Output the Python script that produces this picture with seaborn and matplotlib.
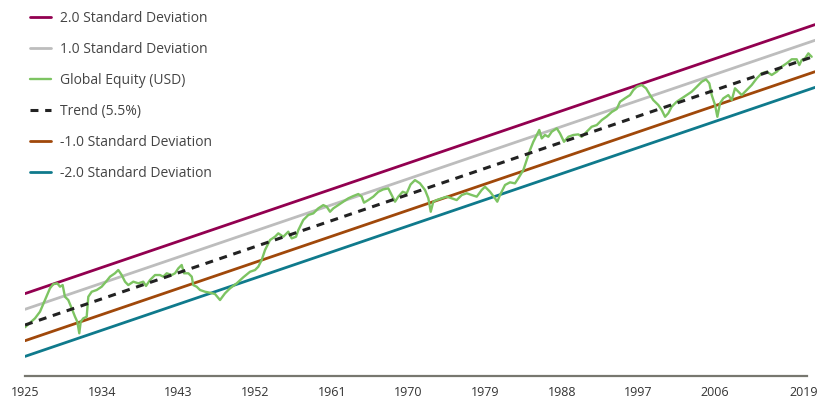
import numpy as np
import pandas as pd
import matplotlib
matplotlib.use("Agg")
import matplotlib.pyplot as plt
import seaborn as sns

# ------- DATA (year, log10 of growth of $1) ---------
equity_years = [
    1925.00, 1925.59, 1926.17, 1926.76, 1927.35, 1927.93, 1928.32, 1928.79, 1929.11, 1929.42,
    1929.69, 1930.08, 1930.48, 1930.87, 1931.14, 1931.37, 1931.54, 1931.84, 1932.24, 1932.43,
    1932.83, 1933.42, 1934.00, 1934.51, 1934.98, 1935.56, 1935.95, 1936.35, 1936.74, 1937.12,
    1937.71, 1938.30, 1938.88, 1939.20, 1939.67, 1940.26, 1940.84, 1941.23, 1941.63, 1942.22,
    1942.61, 1942.99, 1943.39, 1943.66, 1944.17, 1944.57, 1944.75, 1945.15, 1945.54, 1946.13,
    1946.71, 1947.30, 1947.89, 1948.47, 1949.06, 1949.85, 1950.62, 1951.41, 1952.00, 1952.38,
    1952.78, 1953.17, 1953.76, 1954.34, 1954.73, 1955.32, 1955.90, 1956.30, 1956.81, 1957.08,
    1957.66, 1958.25, 1958.84, 1959.42, 1960.01, 1960.41, 1960.80, 1961.19, 1961.77, 1962.36,
    1962.95, 1963.53, 1964.12, 1964.52, 1964.79, 1965.29, 1965.88, 1966.47, 1967.05, 1967.64,
    1968.04, 1968.43, 1968.81, 1969.33, 1969.80, 1970.25, 1970.77, 1971.36, 1971.95, 1972.34,
    1972.62, 1972.92, 1973.32, 1973.91, 1974.49, 1975.08, 1975.67, 1976.26, 1976.84, 1977.43,
    1978.02, 1978.60, 1978.99, 1979.58, 1980.16, 1980.43, 1980.75, 1981.34, 1981.92, 1982.51,
    1982.90, 1983.49, 1983.88, 1984.27, 1984.66, 1985.06, 1985.36, 1985.65, 1986.03, 1986.42,
    1986.82, 1987.41, 1987.79, 1988.26, 1988.77, 1989.35, 1989.94, 1990.34, 1990.93, 1991.51,
    1992.10, 1992.69, 1993.27, 1993.86, 1994.45, 1994.84, 1995.42, 1996.01, 1996.40, 1996.80,
    1997.38, 1997.89, 1998.36, 1998.74, 1999.33, 1999.73, 2000.12, 2000.50, 2000.90, 2001.49,
    2002.08, 2002.66, 2003.25, 2003.84, 2004.42, 2004.93, 2005.32, 2005.60, 2005.99, 2006.26,
    2006.57, 2006.96, 2007.55, 2007.95, 2008.33, 2008.72, 2009.12, 2009.71, 2010.29, 2010.88,
    2011.47, 2012.05, 2012.64, 2013.23, 2013.81, 2014.40, 2014.99, 2015.57, 2015.88, 2016.16,
    2016.55, 2016.94, 2017.33,
]
equity_log = [
    -0.018, 0.018, 0.053, 0.106, 0.199, 0.292, 0.326, 0.332, 0.305, 0.318,
    0.225, 0.199, 0.133, 0.066, 0.026, -0.066, 0.026, 0.053, 0.066, 0.225,
    0.265, 0.279, 0.305, 0.345, 0.385, 0.412, 0.438, 0.398, 0.345, 0.318,
    0.345, 0.332, 0.345, 0.311, 0.358, 0.398, 0.398, 0.385, 0.412, 0.398,
    0.412, 0.451, 0.478, 0.412, 0.412, 0.385, 0.318, 0.305, 0.279, 0.265,
    0.257, 0.247, 0.199, 0.252, 0.292, 0.332, 0.380, 0.424, 0.438, 0.464,
    0.518, 0.597, 0.677, 0.703, 0.730, 0.703, 0.743, 0.690, 0.703, 0.756,
    0.836, 0.876, 0.889, 0.929, 0.955, 0.942, 0.902, 0.929, 0.955, 0.982,
    1.009, 1.027, 1.043, 1.022, 0.974, 0.995, 1.022, 1.061, 1.080, 1.088,
    1.035, 0.982, 1.022, 1.061, 1.049, 1.119, 1.154, 1.128, 1.075, 1.009,
    0.902, 0.982, 0.995, 1.009, 1.022, 1.009, 0.995, 1.035, 1.049, 1.035,
    1.022, 1.075, 1.101, 1.061, 1.009, 0.982, 1.035, 1.115, 1.136, 1.128,
    1.168, 1.234, 1.314, 1.393, 1.459, 1.513, 1.553, 1.486, 1.513, 1.499,
    1.539, 1.566, 1.526, 1.459, 1.499, 1.513, 1.518, 1.499, 1.539, 1.579,
    1.592, 1.632, 1.660, 1.696, 1.720, 1.778, 1.805, 1.831, 1.871, 1.897,
    1.911, 1.885, 1.831, 1.791, 1.752, 1.712, 1.658, 1.686, 1.738, 1.778,
    1.805, 1.831, 1.858, 1.897, 1.937, 1.956, 1.924, 1.831, 1.752, 1.658,
    1.765, 1.805, 1.831, 1.791, 1.885, 1.858, 1.831, 1.871, 1.911, 1.964,
    2.004, 2.017, 1.991, 2.017, 2.057, 2.084, 2.116, 2.116, 2.070, 2.110,
    2.123, 2.163, 2.136,
]

# straight lines: start / end of the fitted trend and the SD bands
line_years = [1925.0, 2017.72]
trend_line = [0.000, 2.142]
sd_plus2 = [0.250, 2.392]
sd_plus1 = [0.125, 2.267]
sd_minus1 = [-0.125, 2.017]
sd_minus2 = [-0.250, 1.892]

tick_years = [1925, 1934, 1943, 1952, 1961, 1970, 1979, 1988, 1997, 2006, 2016.43]
tick_labels = ["1925", "1934", "1943", "1952", "1961", "1970", "1979", "1988", "1997", "2006", "2019"]

# ------- STYLE ---------
sns.set_style("white")
plt.rcParams["font.family"] = ["Open Sans", "DejaVu Sans"]

C_PLUS2 = "#920050"
C_PLUS1 = "#BDBDBD"
C_EQ = "#7DC462"
C_TREND = "#222222"
C_MINUS1 = "#A0480A"
C_MINUS2 = "#0F7A8C"

fig = plt.figure(figsize=(8.33, 3.98), dpi=100)
ax = fig.add_axes([25 / 833, 22 / 398, 790 / 833, 376 / 398])

sns.lineplot(x=line_years, y=sd_plus2, ax=ax, color=C_PLUS2, lw=2.0, label="2.0 Standard Deviation", zorder=2)
sns.lineplot(x=line_years, y=sd_plus1, ax=ax, color=C_PLUS1, lw=2.0, label="1.0 Standard Deviation", zorder=2)
sns.lineplot(x=equity_years, y=equity_log, ax=ax, color=C_EQ, lw=1.7, label="Global Equity (USD)", zorder=3,
             sort=False)
sns.lineplot(x=line_years, y=trend_line, ax=ax, color=C_TREND, lw=2.2, label="Trend (5.5%)", zorder=4)
ax.lines[-1].set_dashes([2.6, 2.2])
sns.lineplot(x=line_years, y=sd_minus1, ax=ax, color=C_MINUS1, lw=2.0, label="-1.0 Standard Deviation", zorder=2)
sns.lineplot(x=line_years, y=sd_minus2, ax=ax, color=C_MINUS2, lw=2.0, label="-2.0 Standard Deviation", zorder=2)

ax.set_xlim(1925, 2017.72)
ax.set_ylim(-0.406, 2.588)

# ------- AXES ---------
for s in ["top", "right", "left"]:
    ax.spines[s].set_visible(False)
ax.spines["bottom"].set_color("#77776f")
ax.spines["bottom"].set_linewidth(1.6)
ax.spines["bottom"].set_bounds(1925, 2016.8)
ax.set_yticks([])
ax.set_xticks(tick_years)
ax.set_xticklabels(tick_labels)
ax.tick_params(axis="x", length=0, pad=7, labelsize=9, labelcolor="#333333")
ax.set_xlabel("")
ax.set_ylabel("")

# ------- LEGEND ---------
leg = ax.legend(loc="upper left", bbox_to_anchor=(30 / 833, 1 - 11 / 398), bbox_transform=fig.transFigure,
                frameon=False, fontsize=10, handlelength=1.5, handletextpad=0.65, labelspacing=1.15,
                borderpad=0, borderaxespad=0)
for t in leg.get_texts():
    t.set_color("#444444")

fig.savefig("out.png", dpi=100)
